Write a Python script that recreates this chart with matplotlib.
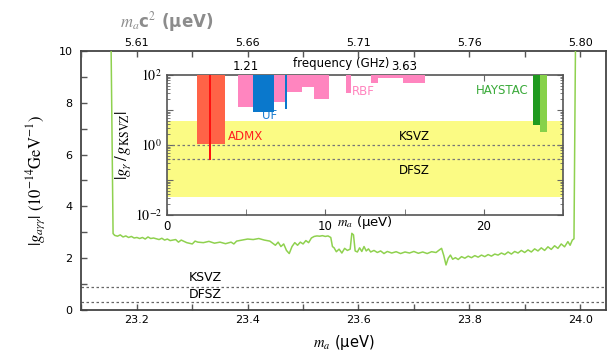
import matplotlib
matplotlib.use('Agg')
import matplotlib.pyplot as plt
from matplotlib.ticker import MultipleLocator, FixedLocator, NullFormatter

plt.rcParams['font.family'] = ['DejaVu Sans']
plt.rcParams['mathtext.fontset'] = 'stix'

# ---------------- data ----------------
mass_curve = [23.153, 23.157, 23.160, 23.165, 23.170, 23.175, 23.180, 23.185, 23.190, 23.195,
              23.200, 23.205, 23.210, 23.215, 23.220, 23.225, 23.230, 23.240, 23.245, 23.250,
              23.255, 23.260, 23.270, 23.275, 23.280, 23.290, 23.300, 23.305, 23.310, 23.320,
              23.330, 23.340, 23.350, 23.360, 23.370, 23.375, 23.380, 23.390, 23.400, 23.410,
              23.420, 23.430, 23.440, 23.450, 23.455, 23.460, 23.465, 23.470, 23.475, 23.480,
              23.485, 23.490, 23.495, 23.500, 23.505, 23.510, 23.515, 23.520, 23.525, 23.530,
              23.535, 23.540, 23.545, 23.550, 23.553, 23.556, 23.560, 23.565, 23.570, 23.575,
              23.580, 23.585, 23.588, 23.591, 23.594, 23.598, 23.602, 23.606, 23.610, 23.614,
              23.618, 23.622, 23.628, 23.634, 23.640, 23.646, 23.652, 23.660, 23.668, 23.676,
              23.684, 23.692, 23.700, 23.708, 23.716, 23.724, 23.732, 23.740, 23.746, 23.750,
              23.754, 23.758, 23.762, 23.766, 23.770, 23.775, 23.780, 23.786, 23.792, 23.798,
              23.804, 23.810, 23.816, 23.822, 23.828, 23.834, 23.840, 23.846, 23.852, 23.858,
              23.864, 23.870, 23.876, 23.882, 23.888, 23.894, 23.900, 23.906, 23.912, 23.918,
              23.924, 23.930, 23.936, 23.942, 23.948, 23.954, 23.960, 23.966, 23.972, 23.978,
              23.982, 23.986, 23.989, 23.992]
g_curve = [11.0, 2.95, 2.88, 2.85, 2.90, 2.82, 2.86, 2.80, 2.84, 2.78,
           2.80, 2.76, 2.80, 2.74, 2.82, 2.76, 2.78, 2.72, 2.77, 2.70,
           2.74, 2.68, 2.72, 2.62, 2.70, 2.60, 2.55, 2.66, 2.62, 2.60,
           2.65, 2.58, 2.62, 2.56, 2.62, 2.55, 2.66, 2.70, 2.74, 2.72,
           2.76, 2.70, 2.66, 2.50, 2.62, 2.45, 2.55, 2.30, 2.18, 2.45,
           2.60, 2.50, 2.62, 2.55, 2.68, 2.60, 2.78, 2.84, 2.86, 2.85,
           2.87, 2.84, 2.86, 2.80, 2.45, 2.40, 2.25, 2.35, 2.20, 2.38,
           2.30, 2.35, 2.96, 2.90, 2.28, 2.24, 2.40, 2.26, 2.45, 2.28,
           2.36, 2.24, 2.30, 2.22, 2.28, 2.18, 2.26, 2.20, 2.25, 2.18,
           2.24, 2.20, 2.26, 2.19, 2.24, 2.18, 2.25, 2.22, 2.32, 2.38,
           2.10, 1.74, 2.00, 2.12, 1.96, 2.02, 1.95, 2.06, 2.00, 2.08,
           2.02, 2.10, 2.04, 2.12, 2.06, 2.14, 2.08, 2.16, 2.12, 2.20,
           2.14, 2.24, 2.16, 2.26, 2.20, 2.30, 2.22, 2.32, 2.24, 2.36,
           2.28, 2.40, 2.30, 2.44, 2.34, 2.48, 2.38, 2.55, 2.44, 2.64,
           2.50, 2.70, 2.75, 11.0]

ksvz_main = 0.88
dfsz_main = 0.32
main_xticks = [23.2, 23.4, 23.6, 23.8, 24.0]
main_xticklabels = ['23.2', '23.4', '23.6', '23.8', '24.0']
top_ticklabels = ['5.61', '5.66', '5.71', '5.76', '5.80']

# inset data (g_gamma / g_KSVZ)
band_lo, band_hi = 0.033, 4.95
ksvz_ratio = 1.0
dfsz_ratio = 0.39
admx_lo, admx_hi, admx_floor = 1.88, 3.67, 1.1
admx_line_m, admx_line_floor = 2.72, 0.37
rbf_lo = [4.5, 6.7, 7.6, 8.5, 9.25, 11.3, 12.85, 13.3, 14.9]
rbf_hi = [5.5, 7.5, 8.5, 9.25, 10.2, 11.6, 13.3, 14.9, 16.3]
rbf_floor = [12.0, 17.0, 33.0, 45.0, 20.0, 30.0, 59.0, 82.0, 60.0]
uf_lo = [5.45, 7.48]
uf_hi = [6.73, 7.60]
uf_floor = [9.0, 10.7]
hay_lo = [23.1, 23.55]
hay_hi = [23.55, 24.0]
hay_floor = [3.7, 2.4]
hay_colors = ['#1f9a1f', '#86d14a']
inset_top_ticks = [5, 15]
inset_top_labels = ['1.21', '3.63']

# ---------------- figure ----------------
fig = plt.figure(figsize=(6.16, 3.51), dpi=100)
ax = fig.add_axes([0.13149, 0.11681, 0.85227, 0.73789])

ax.plot(mass_curve, g_curve, color='#8fd14f', lw=1.1, zorder=3)
ax.axhline(ksvz_main, color='#666666', ls=(0, (2, 2)), lw=0.9)
ax.axhline(dfsz_main, color='#666666', ls=(0, (2, 2)), lw=0.9)
ax.text(23.324, 1.24, 'KSVZ', fontsize=9, ha='center', va='center')
ax.text(23.324, 0.60, 'DFSZ', fontsize=9, ha='center', va='center')

ax.set_xlim(23.0991, 24.0468)
ax.set_ylim(0, 10)
ax.set_xticks(main_xticks, main_xticklabels)
ax.xaxis.set_minor_locator(MultipleLocator(0.1))
ax.yaxis.set_major_locator(MultipleLocator(2))
ax.yaxis.set_minor_locator(MultipleLocator(1))
ax.tick_params(which='both', direction='in', length=4, width=1, color='#555555', labelsize=8)
ax.tick_params(axis='y', pad=6)
for s in ax.spines.values():
    s.set_color('#444444')
    s.set_linewidth(1.3)

ax.set_xlabel(r'$m_a$ (µeV)', fontsize=10.5, labelpad=6)
ax.set_ylabel(r'$|g_{a\gamma\gamma}|\ (10^{-14}\mathrm{GeV}^{-1})$', fontsize=12, labelpad=8)

axt = ax.twiny()
axt.set_xlim(ax.get_xlim())
axt.set_xticks(main_xticks, top_ticklabels)
axt.xaxis.set_minor_locator(MultipleLocator(0.1))
axt.tick_params(which='both', direction='in', length=4, width=1, color='#555555', labelsize=8, pad=2.5)
for s in axt.spines.values():
    s.set_visible(False)

fig.text(167 / 616, 1 - 22 / 351, r'$m_a$c$^2$ (µeV)', fontsize=12, color='#8c8c8c',
         fontweight='bold', ha='center', va='center')

# ---------------- inset ----------------
axi = fig.add_axes([0.27110, 0.38746, 0.64286, 0.39886], zorder=5)
axi.set_yscale('log')
axi.set_xlim(0, 25)
axi.set_ylim(1e-2, 1e2)
axi.axhspan(band_lo, band_hi, color='#fbfb84', lw=0, zorder=1)
axi.axhline(ksvz_ratio, color='#777777', ls=(0, (2, 2)), lw=0.9, zorder=2)
axi.axhline(dfsz_ratio, color='#777777', ls=(0, (2, 2)), lw=0.9, zorder=2)
top = 150.0
axi.bar(admx_lo, top - admx_floor, width=admx_hi - admx_lo, bottom=admx_floor,
        align='edge', color='#ff6347', lw=0, zorder=3)
axi.bar(admx_line_m - 0.07, top - admx_line_floor, width=0.14, bottom=admx_line_floor,
        align='edge', color='#ff1010', lw=0, zorder=4)
for lo, hi, fl in zip(rbf_lo, rbf_hi, rbf_floor):
    axi.bar(lo, top - fl, width=hi - lo, bottom=fl, align='edge', color='#ff85bf', lw=0, zorder=3)
for lo, hi, fl in zip(uf_lo, uf_hi, uf_floor):
    axi.bar(lo, top - fl, width=hi - lo, bottom=fl, align='edge', color='#0a78cc', lw=0, zorder=4)
for lo, hi, fl, c in zip(hay_lo, hay_hi, hay_floor, hay_colors):
    axi.bar(lo, top - fl, width=hi - lo, bottom=fl, align='edge', color=c, lw=0, zorder=3)

axi.text(3.86, 1.8, 'ADMX', color='#ff2020', fontsize=8.5, ha='left', va='center')
axi.text(6.5, 7.0, 'UF', color='#1f7fd0', fontsize=8.5, ha='center', va='center')
axi.text(12.37, 33, 'RBF', color='#ff85bf', fontsize=8.5, ha='center', va='center')
axi.text(22.85, 35, 'HAYSTAC', color='#3aaa3a', fontsize=8.5, ha='right', va='center')
axi.text(15.6, 1.75, 'KSVZ', fontsize=8.5, ha='center', va='center')
axi.text(15.6, 0.19, 'DFSZ', fontsize=8.5, ha='center', va='center')

axi.set_xticks([0, 10, 20])
axi.xaxis.set_minor_locator(FixedLocator([5, 15, 25]))
axi.set_yticks([1e-2, 1e-1, 1, 10, 100], [r'$10^{-2}$', '', r'$10^{0}$', '', r'$10^{2}$'])
axi.yaxis.set_minor_locator(FixedLocator([k * 10.0 ** e for e in (-2, -1, 0, 1) for k in range(2, 10)]))
axi.yaxis.set_minor_formatter(NullFormatter())
axi.tick_params(which='both', direction='in', top=True, right=True, color='#666666', labelsize=8.5)
axi.tick_params(axis='y', labelsize=10)
axi.tick_params(which='major', length=4)
axi.tick_params(which='minor', length=2)
axi.tick_params(axis='x', which='minor', length=4)
for s in axi.spines.values():
    s.set_color('#555555')
    s.set_linewidth(1.2)
axi.text(0.5, -0.057, r'$m_a$ (µeV)', transform=axi.transAxes, fontsize=9.5, ha='center', va='center')
axi.set_ylabel(r'$|g_\gamma\,/\,g_{\mathrm{KSVZ}}|$', fontsize=12, labelpad=1)

sec = axi.secondary_xaxis('top')
sec.set_xticks(inset_top_ticks, inset_top_labels)
sec.tick_params(length=0, labelsize=8.5, pad=1.5)
for s in sec.spines.values():
    s.set_visible(False)
fig.text(341 / 616, 1 - 63 / 351, 'frequency (GHz)', fontsize=8.5, ha='center', va='center')

fig.savefig('out.png', dpi=100)
